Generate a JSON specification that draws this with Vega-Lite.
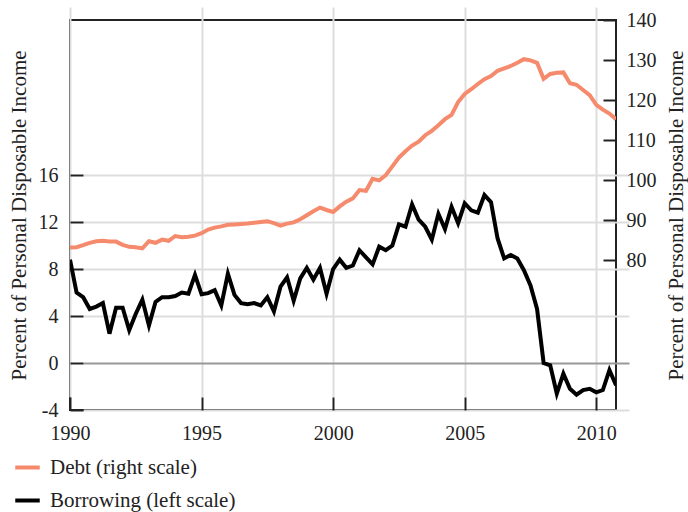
{
  "$schema": "https://vega.github.io/schema/vega-lite/v6.json",
  "width": 546,
  "height": 390,
  "autosize": {"type": "none"},
  "padding": {"left": 70, "top": 20, "right": 72, "bottom": 102},
  "config": {
    "font": "Liberation Serif",
    "view": {"stroke": "#222", "strokeWidth": 2},
    "axis": {
      "labelFont": "Liberation Serif",
      "titleFont": "Liberation Serif",
      "labelFontSize": 20,
      "titleFontSize": 21,
      "titleFontWeight": "normal",
      "labelColor": "#222",
      "titleColor": "#222",
      "domain": false,
      "tickColor": "#222",
      "tickWidth": 2,
      "tickSize": 13,
      "offset": -13,
      "gridColor": "#dddddd",
      "gridWidth": 2
    },
    "legend": {
      "labelFont": "Liberation Serif",
      "labelFontSize": 21,
      "labelColor": "#222",
      "labelLimit": 400
    }
  },
  "data": {
    "values": [
      {"t": 1990.0, "debt": 83.1, "borrowing": 8.8},
      {"t": 1990.25, "debt": 83.2, "borrowing": 6.0},
      {"t": 1990.5, "debt": 83.7, "borrowing": 5.6},
      {"t": 1990.75, "debt": 84.3, "borrowing": 4.6},
      {"t": 1991.0, "debt": 84.7, "borrowing": 4.8},
      {"t": 1991.25, "debt": 84.8, "borrowing": 5.1},
      {"t": 1991.5, "debt": 84.6, "borrowing": 2.5},
      {"t": 1991.75, "debt": 84.6, "borrowing": 4.7},
      {"t": 1992.0, "debt": 83.8, "borrowing": 4.7},
      {"t": 1992.25, "debt": 83.3, "borrowing": 2.8},
      {"t": 1992.5, "debt": 83.2, "borrowing": 4.2},
      {"t": 1992.75, "debt": 82.9, "borrowing": 5.4},
      {"t": 1993.0, "debt": 84.7, "borrowing": 3.2},
      {"t": 1993.25, "debt": 84.3, "borrowing": 5.2},
      {"t": 1993.5, "debt": 85.1, "borrowing": 5.6},
      {"t": 1993.75, "debt": 84.8, "borrowing": 5.6},
      {"t": 1994.0, "debt": 86.0, "borrowing": 5.7},
      {"t": 1994.25, "debt": 85.7, "borrowing": 6.0},
      {"t": 1994.5, "debt": 85.8, "borrowing": 5.9},
      {"t": 1994.75, "debt": 86.1, "borrowing": 7.5},
      {"t": 1995.0, "debt": 86.7, "borrowing": 5.85},
      {"t": 1995.25, "debt": 87.6, "borrowing": 5.95},
      {"t": 1995.5, "debt": 88.1, "borrowing": 6.2},
      {"t": 1995.75, "debt": 88.4, "borrowing": 4.9},
      {"t": 1996.0, "debt": 88.8, "borrowing": 7.6},
      {"t": 1996.25, "debt": 88.9, "borrowing": 5.8},
      {"t": 1996.5, "debt": 89.0, "borrowing": 5.1},
      {"t": 1996.75, "debt": 89.1, "borrowing": 5.0},
      {"t": 1997.0, "debt": 89.3, "borrowing": 5.1},
      {"t": 1997.25, "debt": 89.5, "borrowing": 4.9},
      {"t": 1997.5, "debt": 89.7, "borrowing": 5.6},
      {"t": 1997.75, "debt": 89.2, "borrowing": 4.4},
      {"t": 1998.0, "debt": 88.6, "borrowing": 6.5},
      {"t": 1998.25, "debt": 89.1, "borrowing": 7.3},
      {"t": 1998.5, "debt": 89.4, "borrowing": 5.3},
      {"t": 1998.75, "debt": 90.2, "borrowing": 7.2},
      {"t": 1999.0, "debt": 91.2, "borrowing": 8.1},
      {"t": 1999.25, "debt": 92.2, "borrowing": 7.1},
      {"t": 1999.5, "debt": 93.1, "borrowing": 8.1},
      {"t": 1999.75, "debt": 92.5, "borrowing": 5.9},
      {"t": 2000.0, "debt": 92.0, "borrowing": 8.0},
      {"t": 2000.25, "debt": 93.4, "borrowing": 8.8},
      {"t": 2000.5, "debt": 94.6, "borrowing": 8.1},
      {"t": 2000.75, "debt": 95.4, "borrowing": 8.3},
      {"t": 2001.0, "debt": 97.5, "borrowing": 9.6},
      {"t": 2001.25, "debt": 97.3, "borrowing": 9.0},
      {"t": 2001.5, "debt": 100.3, "borrowing": 8.4},
      {"t": 2001.75, "debt": 99.9, "borrowing": 9.9},
      {"t": 2002.0, "debt": 101.2, "borrowing": 9.6},
      {"t": 2002.25, "debt": 103.4, "borrowing": 10.0},
      {"t": 2002.5, "debt": 105.6, "borrowing": 11.8},
      {"t": 2002.75, "debt": 107.2, "borrowing": 11.6},
      {"t": 2003.0, "debt": 108.6, "borrowing": 13.5},
      {"t": 2003.25, "debt": 109.6, "borrowing": 12.2},
      {"t": 2003.5, "debt": 111.2, "borrowing": 11.6},
      {"t": 2003.75, "debt": 112.3, "borrowing": 10.5},
      {"t": 2004.0, "debt": 113.7, "borrowing": 12.7},
      {"t": 2004.25, "debt": 115.2, "borrowing": 11.4},
      {"t": 2004.5, "debt": 116.3, "borrowing": 13.3},
      {"t": 2004.75, "debt": 119.5, "borrowing": 11.9},
      {"t": 2005.0, "debt": 121.5, "borrowing": 13.6},
      {"t": 2005.25, "debt": 122.7, "borrowing": 13.0},
      {"t": 2005.5, "debt": 124.0, "borrowing": 12.8},
      {"t": 2005.75, "debt": 125.2, "borrowing": 14.3},
      {"t": 2006.0, "debt": 126.0, "borrowing": 13.7},
      {"t": 2006.25, "debt": 127.3, "borrowing": 10.6},
      {"t": 2006.5, "debt": 127.9, "borrowing": 8.9},
      {"t": 2006.75, "debt": 128.5, "borrowing": 9.2},
      {"t": 2007.0, "debt": 129.3, "borrowing": 8.9},
      {"t": 2007.25, "debt": 130.2, "borrowing": 7.9},
      {"t": 2007.5, "debt": 129.9, "borrowing": 6.6},
      {"t": 2007.75, "debt": 129.3, "borrowing": 4.6},
      {"t": 2008.0, "debt": 125.3, "borrowing": 0.0},
      {"t": 2008.25, "debt": 126.5, "borrowing": -0.2},
      {"t": 2008.5, "debt": 126.8, "borrowing": -2.6},
      {"t": 2008.75, "debt": 126.9, "borrowing": -0.9},
      {"t": 2009.0, "debt": 124.2, "borrowing": -2.2},
      {"t": 2009.25, "debt": 123.8, "borrowing": -2.7},
      {"t": 2009.5, "debt": 122.5, "borrowing": -2.3},
      {"t": 2009.75, "debt": 121.2, "borrowing": -2.2},
      {"t": 2010.0, "debt": 118.8, "borrowing": -2.5},
      {"t": 2010.25, "debt": 117.6, "borrowing": -2.3},
      {"t": 2010.5, "debt": 116.6, "borrowing": -0.6},
      {"t": 2010.75, "debt": 115.2, "borrowing": -1.9}
    ]
  },
  "encoding": {
    "x": {
      "field": "t",
      "type": "quantitative",
      "scale": {"domain": [1990, 2010.75], "nice": false, "zero": false},
      "axis": {
        "title": null,
        "values": [1990, 1995, 2000, 2005, 2010],
        "format": "d",
        "labelFlush": false,
        "labelPadding": 13
      }
    }
  },
  "layer": [
    {
      "mark": {"type": "line", "strokeWidth": 4, "clip": true},
      "encoding": {
        "y": {
          "field": "borrowing",
          "type": "quantitative",
          "scale": {"domain": [-4, 29.2], "nice": false, "zero": false},
          "axis": {
            "orient": "left",
            "title": "Percent of Personal Disposable Income",
            "values": [-4, 0, 4, 8, 12, 16],
            "labelExpr": "'' + datum.value",
            "labelPadding": 12,
            "titlePadding": 9,
            "gridColor": {"condition": {"test": "datum.value === 0", "value": "#999999"}, "value": "#dddddd"}
          }
        },
        "color": {
          "datum": "Borrowing (left scale)",
          "type": "nominal",
          "scale": {"domain": ["Debt (right scale)", "Borrowing (left scale)"], "range": ["#F58A6C", "#000000"]},
          "legend": {
            "title": null,
            "orient": "none",
            "legendX": -57,
            "legendY": 433,
            "symbolType": "stroke",
            "symbolStrokeWidth": 4,
            "symbolSize": 600,
            "rowPadding": 8,
            "labelOffset": 8
          }
        }
      }
    },
    {
      "mark": {"type": "line", "strokeWidth": 4, "clip": true},
      "encoding": {
        "y": {
          "field": "debt",
          "type": "quantitative",
          "scale": {"domain": [42.5, 140], "nice": false, "zero": false},
          "axis": {
            "orient": "right",
            "title": "Percent of Personal Disposable Income",
            "titleAngle": 270,
            "values": [80, 90, 100, 110, 120, 130, 140],
            "labelPadding": 10,
            "titlePadding": 30
          }
        },
        "color": {"datum": "Debt (right scale)", "type": "nominal"}
      }
    }
  ],
  "resolve": {"scale": {"y": "independent"}}
}
